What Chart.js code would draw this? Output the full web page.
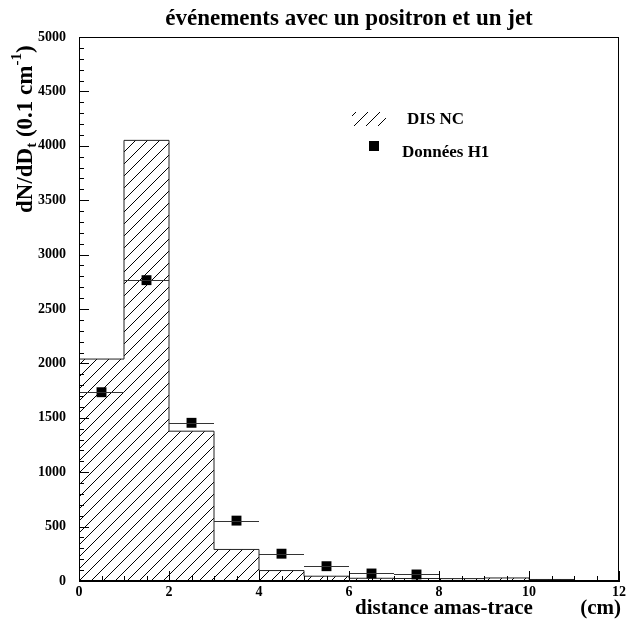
<!DOCTYPE html>
<html>
<head>
<meta charset="utf-8">
<script src="https://cdn.jsdelivr.net/npm/chart.js@4.4.1/dist/chart.umd.min.js"></script>
<style>
  body { margin: 0; background: #fff; }
  #wrap { width: 629px; height: 626px; }
</style>
</head>
<body>
<div id="wrap"><canvas id="distChart" width="629" height="626"></canvas></div>
<script>
// données du graphique
const binLow = [0, 1, 2, 3, 4, 5, 6, 7, 8, 9, 10, 11];
const binWidth = 1;
const mcCounts = [2040, 4050, 1377, 290, 96, 44, 25, 23, 22, 28, 14, 4];
const dataX = [0.5, 1.5, 2.5, 3.5, 4.5, 5.5, 6.5, 7.5];
const dataY = [1735, 2765, 1454, 555, 251, 136, 69, 60];
const dataXErr = [0.5, 0.5, 0.5, 0.5, 0.5, 0.5, 0.5, 0.5];
const xTickValues = [0, 2, 4, 6, 8, 10, 12];
const yTickValues = [0, 500, 1000, 1500, 2000, 2500, 3000, 3500, 4000, 4500, 5000];

const serif = '"Liberation Serif", "DejaVu Serif", serif';

// motif hachuré pour l'histogramme
function makeHatch() {
    const p = document.createElement('canvas');
    p.width = 12; p.height = 12;
    const c = p.getContext('2d');
    c.strokeStyle = '#000';
    c.lineWidth = 1;
    c.beginPath();
    c.moveTo(0, 12); c.lineTo(12, 0);
    c.moveTo(-6, 6); c.lineTo(6, -6);
    c.moveTo(6, 18); c.lineTo(18, 6);
    c.stroke();
    return document.getElementById('distChart').getContext('2d').createPattern(p, 'repeat');
}
const hatch = makeHatch();

// histogramme en escalier : un point par bord de bin
const histPoints = binLow.map((x, i) => ({ x: x, y: mcCounts[i] }));
histPoints.push({ x: binLow[binLow.length - 1] + binWidth, y: mcCounts[mcCounts.length - 1] });

const dataPoints = dataX.map((x, i) => ({ x: x, y: dataY[i] }));

// cadre, graduations intérieures, barres d'erreur, légende et textes
const decorPlugin = {
    id: 'decor',
    afterDatasetsDraw(chart) {
        const ctx = chart.ctx;
        const xs = chart.scales.x, ys = chart.scales.y;
        const a = chart.chartArea;
        ctx.save();

        // barres d'erreur horizontales
        ctx.strokeStyle = '#333';
        ctx.lineWidth = 1;
        dataX.forEach((x, i) => {
            const py = Math.round(ys.getPixelForValue(dataY[i])) + 0.5;
            ctx.beginPath();
            ctx.moveTo(xs.getPixelForValue(x - dataXErr[i]), py);
            ctx.lineTo(xs.getPixelForValue(x + dataXErr[i]), py);
            ctx.stroke();
        });

        // cadre
        ctx.strokeStyle = '#000';
        ctx.strokeRect(a.left + 0.5, a.top + 0.5, a.right - a.left - 1, a.bottom - a.top - 1);

        // graduations axe y
        ctx.beginPath();
        for (let v = 0; v <= 5000; v += 100) {
            const py = Math.round(ys.getPixelForValue(v)) + 0.5;
            const len = v % 500 === 0 ? 10 : 5;
            ctx.moveTo(a.left, py);
            ctx.lineTo(a.left + len, py);
        }
        // graduations axe x
        for (let v = 0; v <= 12; v += 0.5) {
            const px = Math.round(xs.getPixelForValue(v)) + 0.5;
            const len = v % 2 === 0 ? 10 : 5;
            ctx.moveTo(px, a.bottom);
            ctx.lineTo(px, a.bottom - len);
        }
        ctx.stroke();

        // légende
        ctx.save();
        ctx.beginPath();
        ctx.rect(352, 112, 34, 14);
        ctx.clip();
        ctx.fillStyle = hatch;
        ctx.fillRect(352, 112, 34, 14);
        ctx.restore();
        ctx.fillStyle = '#000';
        ctx.fillRect(369, 141, 10, 10);
        ctx.font = 'bold 17px ' + serif;
        ctx.textAlign = 'left';
        ctx.textBaseline = 'alphabetic';
        ctx.fillText('DIS NC', 407, 124);
        ctx.fillText('Données H1', 402, 157);

        // titre
        ctx.font = 'bold 23px ' + serif;
        ctx.textAlign = 'center';
        ctx.fillText('événements avec un positron et un jet', (a.left + a.right) / 2, 25);

        // titre axe x
        ctx.font = 'bold 21px ' + serif;
        ctx.textAlign = 'left';
        ctx.fillText('distance amas-trace', 355, 614);
        ctx.textAlign = 'right';
        ctx.fillText('(cm)', 621, 614);

        // titre axe y (tourné)
        ctx.translate(32, 213);
        ctx.rotate(-Math.PI / 2);
        ctx.textAlign = 'left';
        let cx = 0;
        const part = (txt, size, dy) => {
            ctx.font = 'bold ' + size + 'px ' + serif;
            ctx.fillText(txt, cx, dy);
            cx += ctx.measureText(txt).width;
        };
        part('dN/dD', 23, 0);
        part('t', 15, 4);
        part(' (0.1 cm', 23, 0);
        part('-1', 15, -11);
        part(')', 23, 0);

        ctx.restore();
    }
};

new Chart(document.getElementById('distChart'), {
    type: 'scatter',
    data: {
        datasets: [{
            label: 'Données H1',
            data: dataPoints,
            pointStyle: 'rect',
            pointRadius: 7,
            pointHoverRadius: 7,
            backgroundColor: '#000',
            borderColor: '#000',
            borderWidth: 0,
            order: 0
        }, {
            label: 'DIS NC',
            type: 'line',
            data: histPoints,
            stepped: 'before',
            borderColor: '#222',
            borderWidth: 1,
            backgroundColor: hatch,
            fill: 'origin',
            pointRadius: 0,
            order: 1
        }]
    },
    options: {
        responsive: false,
        animation: false,
        devicePixelRatio: 1,
        layout: { padding: { top: 37, right: 7, left: 0, bottom: 0 } },
        plugins: {
            legend: { display: false },
            tooltip: { enabled: false }
        },
        scales: {
            x: {
                type: 'linear',
                min: 0,
                max: 12,
                afterBuildTicks: s => { s.ticks = xTickValues.map(v => ({ value: v })); },
                afterFit: s => { s.height = 45; },
                ticks: {
                    callback: v => String(v),
                    font: { family: serif, weight: 'bold', size: 14 },
                    color: '#000',
                    padding: 3,
                    maxRotation: 0
                },
                grid: { drawOnChartArea: false, drawTicks: false },
                border: { display: true, color: '#000', width: 1 }
            },
            y: {
                min: 0,
                max: 5000,
                afterBuildTicks: s => { s.ticks = yTickValues.map(v => ({ value: v })); },
                afterFit: s => { s.width = 79; },
                ticks: {
                    callback: v => String(v),
                    font: { family: serif, weight: 'bold', size: 14 },
                    color: '#000',
                    padding: 13
                },
                grid: { drawOnChartArea: false, drawTicks: false },
                border: { display: true, color: '#000', width: 1 }
            }
        }
    },
    plugins: [decorPlugin]
});
</script>
</body>
</html>
